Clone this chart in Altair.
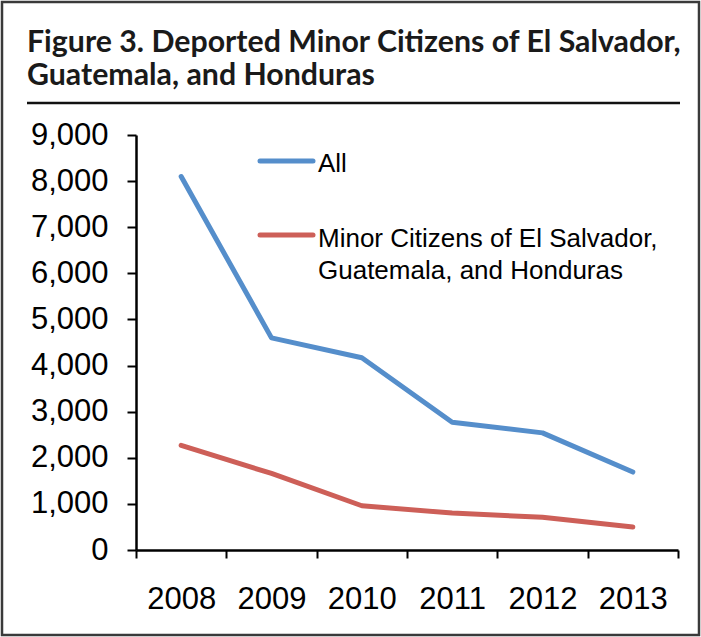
import altair as alt
import pandas as pd

years = ["2008", "2009", "2010", "2011", "2012", "2013"]
all_values = [8100, 4600, 4170, 2770, 2540, 1690]
minor_values = [2270, 1660, 960, 800, 710, 500]
series_names = ["All", "Minor Citizens of El Salvador, Guatemala, and Honduras"]
legend_lines_all = ["All"]
legend_lines_minor = ["Minor Citizens of El Salvador,", "Guatemala, and Honduras"]
y_ticks = [0, 1000, 2000, 3000, 4000, 5000, 6000, 7000, 8000, 9000]
title_lines = ["Figure 3. Deported Minor Citizens of El Salvador,", "Guatemala, and Honduras"]
colors = ["#558ECB", "#CD5F58"]

df = pd.DataFrame({
    "year": years * 2,
    "series": [series_names[0]] * len(years) + [series_names[1]] * len(years),
    "value": all_values + minor_values,
})
one = pd.DataFrame({"k": [0]})

W, H = 542, 415
LABEL_FONT = "Liberation Sans"

lines = alt.Chart(df).mark_line(strokeWidth=5, strokeCap="round", strokeJoin="round").encode(
    x=alt.X("year:N", sort=years,
            scale=alt.Scale(type="band", paddingInner=0, paddingOuter=0),
            axis=alt.Axis(title=None, labelAngle=0, tickBand="extent", tickSize=8,
                          labelPadding=26, grid=False)),
    y=alt.Y("value:Q", scale=alt.Scale(domain=[0, 9000], nice=False),
            axis=alt.Axis(title=None, values=y_ticks, format=",d", tickSize=9,
                          labelPadding=19, grid=False)),
    color=alt.Color("series:N", scale=alt.Scale(domain=series_names, range=colors), legend=None),
    detail="series:N",
)

border = alt.Chart(one).mark_rect(filled=False, stroke="#3a3a3a", strokeWidth=2.5).encode(
    x=alt.value(-134), x2=alt.value(563), y=alt.value(-133), y2=alt.value(500))

title_rule = alt.Chart(one).mark_rule(color="#111111", strokeWidth=2.5).encode(
    x=alt.value(-109), x2=alt.value(544), y=alt.value(-32))

title_style = dict(align="left", baseline="alphabetic", font="Lato", fontWeight="bold",
                   fontSize=30.3, color="#1a1a1a")
title1 = alt.Chart(one).mark_text(**title_style).encode(
    x=alt.value(-109), y=alt.value(-83), text=alt.value(title_lines[0]))
title2 = alt.Chart(one).mark_text(**title_style).encode(
    x=alt.value(-109), y=alt.value(-50), text=alt.value(title_lines[1]))

leg_rule1 = alt.Chart(one).mark_rule(color=colors[0], strokeWidth=5, strokeCap="round").encode(
    x=alt.value(124), x2=alt.value(177), y=alt.value(26))
leg_rule2 = alt.Chart(one).mark_rule(color=colors[1], strokeWidth=5, strokeCap="round").encode(
    x=alt.value(124), x2=alt.value(177), y=alt.value(100))

leg_style = dict(align="left", baseline="alphabetic", font=LABEL_FONT, fontSize=26, color="#000000")
leg_t1 = alt.Chart(one).mark_text(**leg_style).encode(
    x=alt.value(182), y=alt.value(37), text=alt.value(legend_lines_all[0]))
leg_t2 = alt.Chart(one).mark_text(**leg_style).encode(
    x=alt.value(182), y=alt.value(112), text=alt.value(legend_lines_minor[0]))
leg_t3 = alt.Chart(one).mark_text(**leg_style).encode(
    x=alt.value(182), y=alt.value(144), text=alt.value(legend_lines_minor[1]))

chart = alt.layer(
    border, title_rule, title1, title2, lines, leg_rule1, leg_rule2, leg_t1, leg_t2, leg_t3
).properties(
    width=W, height=H,
    autosize=alt.AutoSizeParams(type="none"),
    padding={"left": 136, "top": 135, "right": 23, "bottom": 87},
    background="white",
).configure_view(stroke=None).configure_axis(
    labelFont=LABEL_FONT, labelFontSize=31, labelColor="#000000",
    domainColor="#000000", domainWidth=2.5, tickColor="#000000", tickWidth=2,
)

chart.save("out.html", embed_options={"renderer": "svg", "actions": False})
